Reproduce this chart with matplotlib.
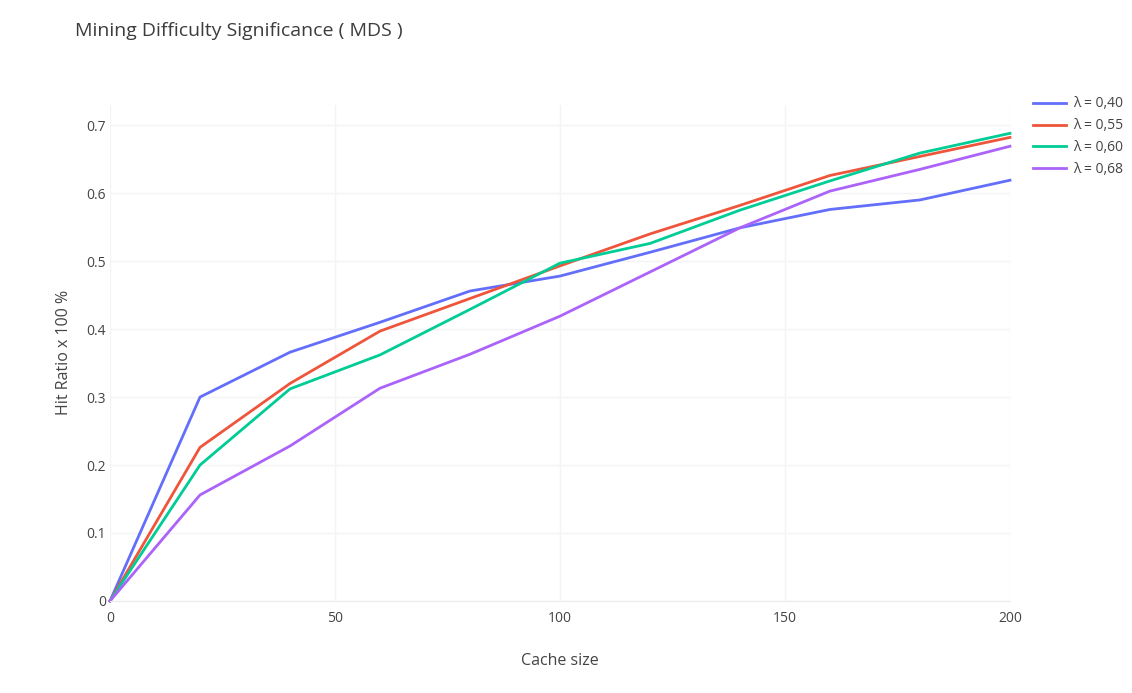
import matplotlib
matplotlib.use("Agg")
import matplotlib.pyplot as plt

# ── Data ──────────────────────────────────────────────────────────────────────
cache_size = [0, 20, 40, 60, 80, 100, 120, 140, 160, 180, 200]

hit_040 = [0, 0.300, 0.366, 0.410, 0.456, 0.478, 0.513, 0.549, 0.576, 0.590, 0.619]
hit_055 = [0, 0.226, 0.320, 0.397, 0.445, 0.493, 0.540, 0.582, 0.626, 0.654, 0.682]
hit_060 = [0, 0.200, 0.312, 0.362, 0.429, 0.497, 0.526, 0.575, 0.618, 0.659, 0.688]
hit_068 = [0, 0.156, 0.228, 0.313, 0.363, 0.419, 0.484, 0.549, 0.603, 0.635, 0.669]

series_labels = ["λ = 0,40", "λ = 0,55", "λ = 0,60", "λ = 0,68"]
series_colors = ["#636efa", "#ef553b", "#00cc96", "#ab63fa"]

x_ticks = [0, 50, 100, 150, 200]
y_ticks = [0, 0.1, 0.2, 0.3, 0.4, 0.5, 0.6, 0.7]
y_tick_labels = ["0", "0.1", "0.2", "0.3", "0.4", "0.5", "0.6", "0.7"]

plt.rcParams["font.family"] = ["Open Sans", "DejaVu Sans"]

# ── Figure ────────────────────────────────────────────────────────────────────
fig = plt.figure(figsize=(11.32, 6.93), dpi=100)
ax = fig.add_axes([0.0972, 0.1328, 0.795, 0.716])

for ys, label, color in zip([hit_040, hit_055, hit_060, hit_068], series_labels, series_colors):
    ax.plot(cache_size, ys, color=color, linewidth=2, label=label,
            solid_joinstyle="round", clip_on=False)

ax.set_xlim(0, 200)
ax.set_ylim(0, 0.73)
ax.set_xticks(x_ticks)
ax.set_yticks(y_ticks)
ax.set_yticklabels(y_tick_labels)

ax.grid(True, color="#f4f4f4", linewidth=1)
ax.set_axisbelow(True)
for side in ["top", "right", "left"]:
    ax.spines[side].set_visible(False)
ax.spines["bottom"].set_color("#ebebeb")
ax.tick_params(length=0, labelsize=10, colors="#444444")
ax.tick_params(axis="x", pad=7)
ax.tick_params(axis="y", pad=3)

ax.set_xlabel("Cache size", fontsize=11.5, color="#444444", labelpad=20)
ax.set_ylabel("Hit Ratio x 100 %", fontsize=11.5, color="#444444", labelpad=10)

fig.text(0.066, 0.968, "Mining Difficulty Significance ( MDS )",
         fontsize=14, color="#3c3c3c", va="top", ha="left")

leg = ax.legend(loc="upper left", bbox_to_anchor=(1.0195, 1.028), frameon=False,
                fontsize=10, handlelength=2.4, handletextpad=0.5, labelspacing=0.5,
                borderaxespad=0)
for t in leg.get_texts():
    t.set_color("#444444")

fig.savefig("out.png", dpi=100, facecolor="white")
